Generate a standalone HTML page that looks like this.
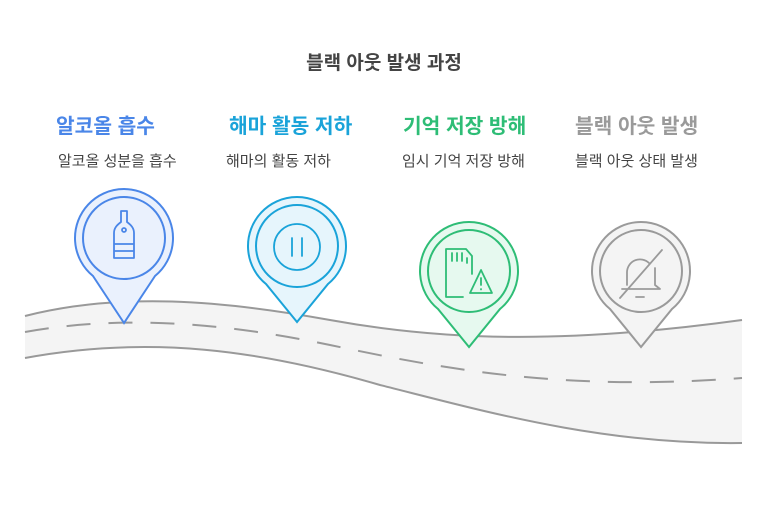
<!DOCTYPE html>
<html><head><meta charset="utf-8"><style>
body{margin:0;background:#fff;}
svg text{font-family:"Liberation Sans","Noto Sans CJK KR",sans-serif;}
</style></head><body>
<svg width="768" height="509" viewBox="0 0 768 509" xmlns="http://www.w3.org/2000/svg">
<text x="384" y="69" text-anchor="middle" font-size="19" font-weight="bold" fill="#444">블랙 아웃 발생 과정</text>
<g font-size="20.3" font-weight="bold">
<text x="56" y="133" fill="#4a86e8">알코올 흡수</text>
<text x="229" y="133" fill="#1aa3d9">해마 활동 저하</text>
<text x="403" y="133" fill="#2ebd76">기억 저장 방해</text>
<text x="575" y="133" fill="#9a9a9a">블랙 아웃 발생</text>
</g>
<g font-size="15" fill="#444">
<text x="58" y="166">알코올 성분을 흡수</text>
<text x="226" y="166">해마의 활동 저하</text>
<text x="402" y="166">임시 기억 저장 방해</text>
<text x="575" y="166">블랙 아웃 상태 발생</text>
</g>
<path d="M25 316 C120 292 220 300 330 320 C440 340 560 345 742 320 L742 443 C600 445 480 410 380 385 C260 350 150 335 25 358 Z" fill="#f4f4f4"/>
<path d="M25 316 C120 292 220 300 330 320 C440 340 560 345 742 320" fill="none" stroke="#999" stroke-width="2"/>
<path d="M25 358 C150 335 260 350 380 385 C480 410 600 445 742 443" fill="none" stroke="#999" stroke-width="2"/>
<path d="M25 332 C120 315 220 322 330 345 C440 368 560 392 742 378" fill="none" stroke="#999" stroke-width="2" stroke-dasharray="24,18"/>
<g stroke-width="2">
<path d="M124 323 L93 276 A49 49 0 1 1 155 276 Z" fill="#eaf1fd" stroke="#4a86e8"/>
<circle cx="124" cy="238" r="41" fill="none" stroke="#4a86e8"/>
<path d="M297 322 L266 284 A49 49 0 1 1 328 284 Z" fill="#e6f5fc" stroke="#1aa3d9"/>
<circle cx="297" cy="246" r="41" fill="none" stroke="#1aa3d9"/>
<path d="M469 347 L438 309 A49 49 0 1 1 500 309 Z" fill="#e6f9ef" stroke="#2ebd76"/>
<circle cx="469" cy="271" r="41" fill="none" stroke="#2ebd76"/>
<path d="M641 347 L610 309 A49 49 0 1 1 672 309 Z" fill="#f4f4f4" stroke="#9a9a9a"/>
<circle cx="641" cy="271" r="41" fill="none" stroke="#9a9a9a"/>
</g>
<g fill="none" stroke-width="1.8" stroke-linecap="round" stroke-linejoin="round">
<path d="M121 211 h6 v11 c4 3 7 6 7 11 v25 h-20 v-25 c0 -5 3 -8 7 -11 z M114 244 h20 M114 251 h20" stroke="#4a86e8"/>
<circle cx="124" cy="230" r="2" stroke="#4a86e8"/>
<circle cx="297" cy="247" r="23" stroke="#1aa3d9"/>
<path d="M292 238 v18 M302 238 v18" stroke="#1aa3d9"/>
<path d="M446 297 v-48 h20 l6 7 v18 M446 297 h17 M452 253 v8 M457 253 v8 M462 253 v8 M467 258 v5 M481 270 l-11 23 h22 z M481 278 v7 M481 289 v0.5" stroke="#2ebd76"/>
<path d="M627 285 v-13 a13 13 0 0 1 22 -9 M655 268 v17 l5 4 h-38 M636 297 h8 M662 250 l-42 48" stroke="#9a9a9a"/>
</g>
</svg>
</body></html>
